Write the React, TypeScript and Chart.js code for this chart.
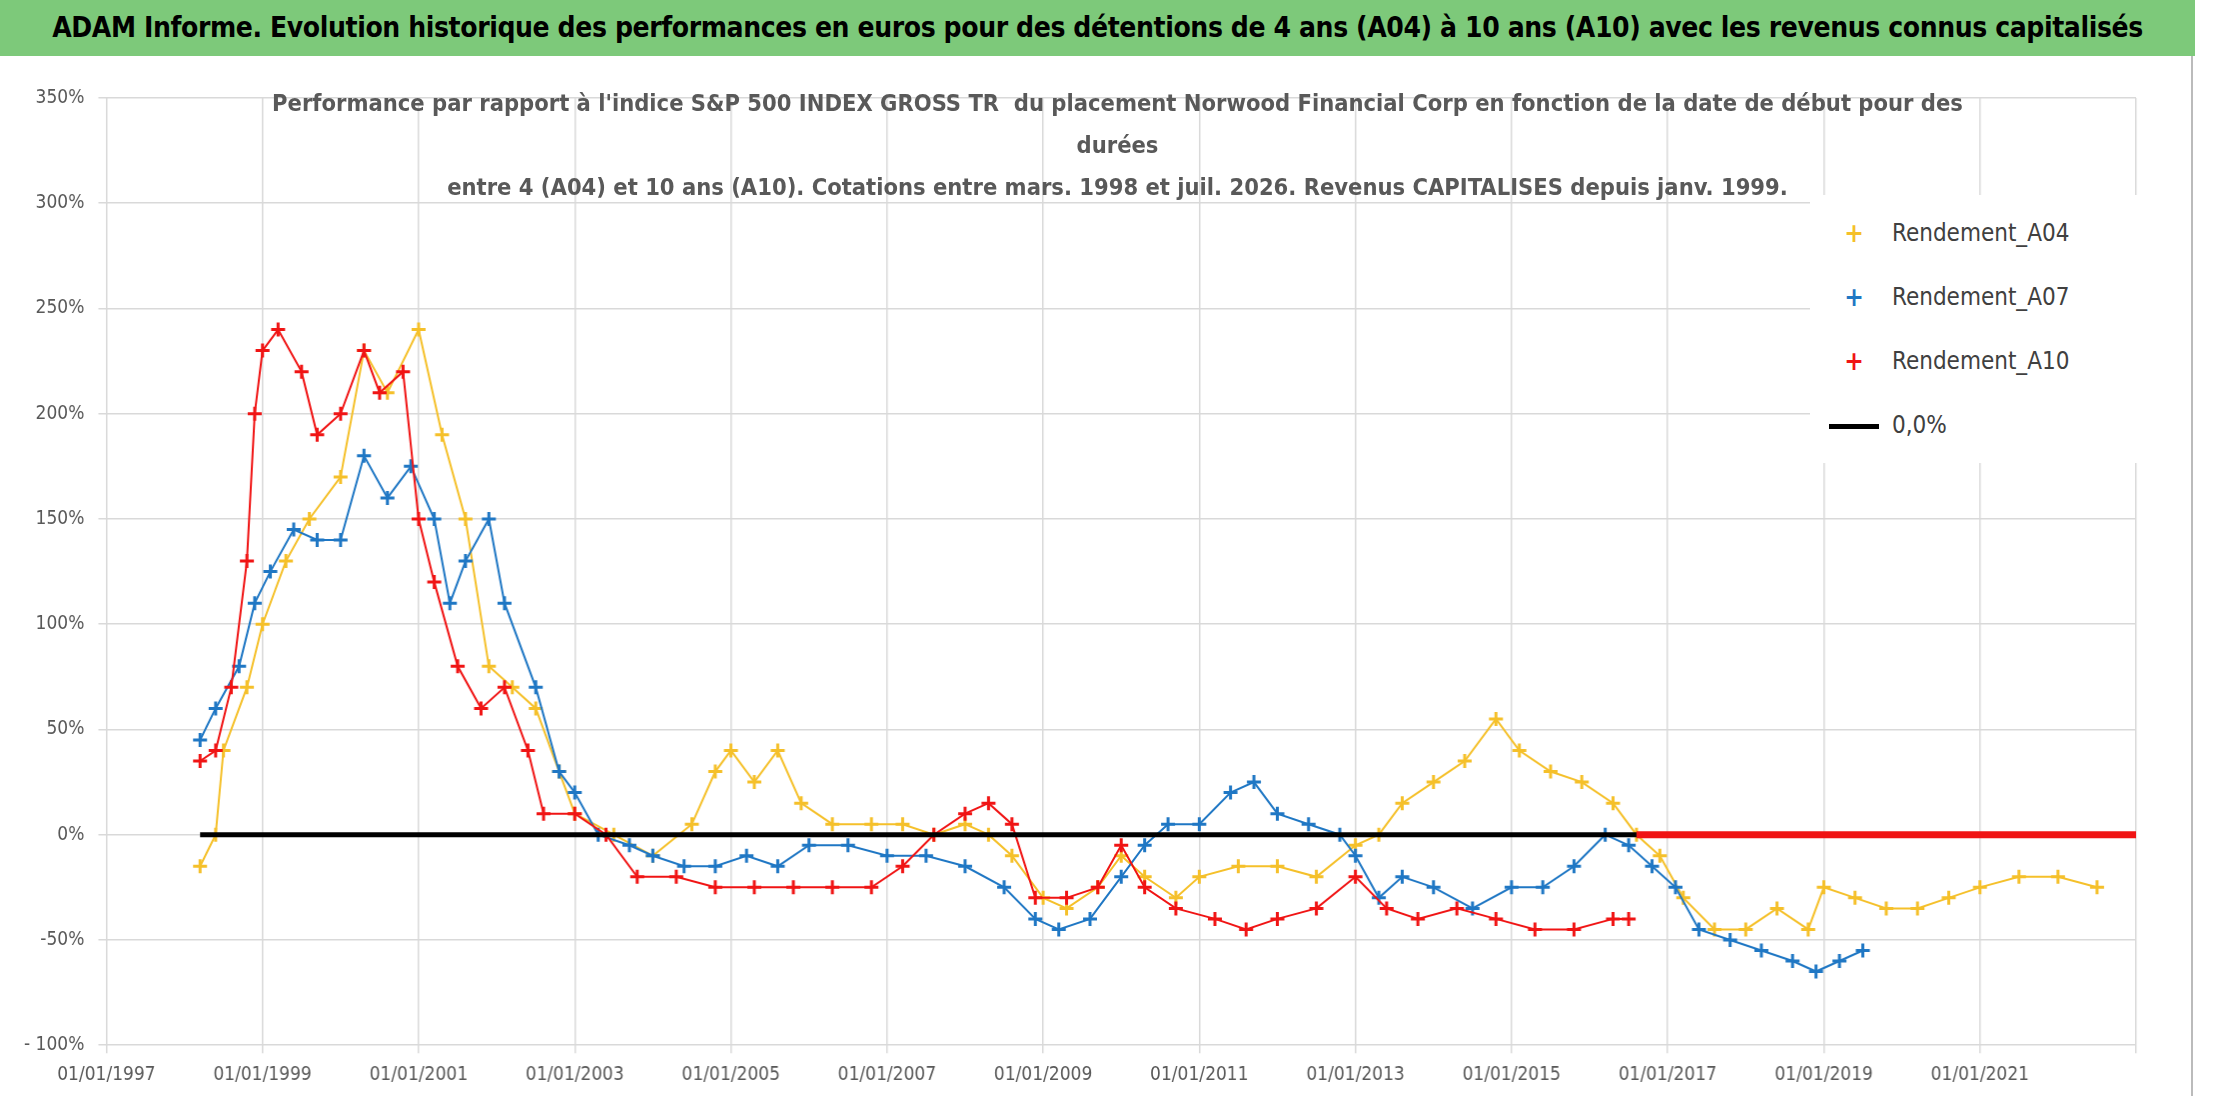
import { useEffect, useRef } from 'react';
import { Chart, registerables } from 'chart.js';

Chart.register(...registerables);

// start dates in decimal years, returns in %
const a04X = [1998.2, 1998.4, 1998.5, 1998.8, 1999.0, 1999.3, 1999.6, 2000.0, 2000.3, 2000.6, 2001.0, 2001.3, 2001.6, 2001.9, 2002.2, 2002.5, 2002.8, 2003.0, 2003.5, 2004.0, 2004.5, 2004.8, 2005.0, 2005.3, 2005.6, 2005.9, 2006.3, 2006.8, 2007.2, 2007.6, 2008.0, 2008.3, 2008.6, 2009.0, 2009.3, 2009.7, 2010.0, 2010.3, 2010.7, 2011.0, 2011.5, 2012.0, 2012.5, 2013.0, 2013.3, 2013.6, 2014.0, 2014.4, 2014.8, 2015.1, 2015.5, 2015.9, 2016.3, 2016.6, 2016.9, 2017.2, 2017.6, 2018.0, 2018.4, 2018.8, 2019.0, 2019.4, 2019.8, 2020.2, 2020.6, 2021.0, 2021.5, 2022.0, 2022.5];
const a04Y = [-15, 0, 40, 70, 100, 130, 150, 170, 230, 210, 240, 190, 150, 80, 70, 60, 30, 10, 0, -10, 5, 30, 40, 25, 40, 15, 5, 5, 5, 0, 5, 0, -10, -30, -35, -25, -10, -20, -30, -20, -15, -15, -20, -5, 0, 15, 25, 35, 55, 40, 30, 25, 15, 0, -10, -30, -45, -45, -35, -45, -25, -30, -35, -35, -30, -25, -20, -20, -25];
const a07X = [1998.2, 1998.4, 1998.7, 1998.9, 1999.1, 1999.4, 1999.7, 2000.0, 2000.3, 2000.6, 2000.9, 2001.2, 2001.4, 2001.6, 2001.9, 2002.1, 2002.5, 2002.8, 2003.0, 2003.3, 2003.7, 2004.0, 2004.4, 2004.8, 2005.2, 2005.6, 2006.0, 2006.5, 2007.0, 2007.5, 2008.0, 2008.5, 2008.9, 2009.2, 2009.6, 2010.0, 2010.3, 2010.6, 2011.0, 2011.4, 2011.7, 2012.0, 2012.4, 2012.8, 2013.0, 2013.3, 2013.6, 2014.0, 2014.5, 2015.0, 2015.4, 2015.8, 2016.2, 2016.5, 2016.8, 2017.1, 2017.4, 2017.8, 2018.2, 2018.6, 2018.9, 2019.2, 2019.5];
const a07Y = [45, 60, 80, 110, 125, 145, 140, 140, 180, 160, 175, 150, 110, 130, 150, 110, 70, 30, 20, 0, -5, -10, -15, -15, -10, -15, -5, -5, -10, -10, -15, -25, -40, -45, -40, -20, -5, 5, 5, 20, 25, 10, 5, 0, -10, -30, -20, -25, -35, -25, -25, -15, 0, -5, -15, -25, -45, -50, -55, -60, -65, -60, -55];
const a10X = [1998.2, 1998.4, 1998.6, 1998.8, 1998.9, 1999.0, 1999.2, 1999.5, 1999.7, 2000.0, 2000.3, 2000.5, 2000.8, 2001.0, 2001.2, 2001.5, 2001.8, 2002.1, 2002.4, 2002.6, 2003.0, 2003.4, 2003.8, 2004.3, 2004.8, 2005.3, 2005.8, 2006.3, 2006.8, 2007.2, 2007.6, 2008.0, 2008.3, 2008.6, 2008.9, 2009.3, 2009.7, 2010.0, 2010.3, 2010.7, 2011.2, 2011.6, 2012.0, 2012.5, 2013.0, 2013.4, 2013.8, 2014.3, 2014.8, 2015.3, 2015.8, 2016.3, 2016.5];
const a10Y = [35, 40, 70, 130, 200, 230, 240, 220, 190, 200, 230, 210, 220, 150, 120, 80, 60, 70, 40, 10, 10, 0, -20, -20, -25, -25, -25, -25, -25, -15, 0, 10, 15, 5, -30, -30, -25, -5, -25, -35, -40, -45, -40, -35, -20, -35, -40, -35, -40, -45, -45, -40, -40];
const a10ZeroRange = [2016.6, 2023.0];
const zeroRange = [1998.2, 2016.6];

const pts = (xs: number[], ys: number[]) => xs.map((x, i) => ({ x, y: ys[i] }));

const legendItems = [
  { label: 'Rendement_A04', color: '#f5c02a', line: false },
  { label: 'Rendement_A07', color: '#1f77c4', line: false },
  { label: 'Rendement_A10', color: '#f01414', line: false },
  { label: '0,0%', color: '#000000', line: true },
];

const FONT = "'DejaVu Sans Condensed', 'Liberation Sans', sans-serif";

export default function App() {
  const canvasRef = useRef<HTMLCanvasElement>(null);

  useEffect(() => {
    document.body.style.margin = '0';
    if (!canvasRef.current) return;
    const series = (data: { x: number; y: number }[], color: string) => ({
      data,
      showLine: true,
      borderColor: color,
      borderWidth: 2,
      backgroundColor: color,
      pointStyle: 'cross' as const,
      pointRadius: 7,
      pointBorderWidth: 3,
      pointBorderColor: color,
    });
    const tickFont = { size: 19, family: FONT };
    const chart = new Chart(canvasRef.current, {
      type: 'scatter',
      data: {
        datasets: [
          { data: zeroRange.map((x) => ({ x, y: 0 })), showLine: true, borderColor: '#000', borderWidth: 5, pointRadius: 0 },
          { data: a10ZeroRange.map((x) => ({ x, y: 0 })), showLine: true, borderColor: '#f01414', borderWidth: 7, pointRadius: 0 },
          series(pts(a10X, a10Y), '#f01414'),
          series(pts(a07X, a07Y), '#1f77c4'),
          series(pts(a04X, a04Y), '#f5c02a'),
        ],
      },
      options: {
        animation: false,
        responsive: false,
        layout: { padding: { top: 42, right: 55, left: 10 } },
        plugins: { legend: { display: false }, tooltip: { enabled: false } },
        scales: {
          x: {
            type: 'linear', min: 1997, max: 2023,
            ticks: { stepSize: 2, callback: (v) => (Number(v) % 2 === 1 && Number(v) < 2023 ? '01/01/' + v : ''), color: '#595959', font: tickFont, padding: 10 },
            grid: { color: '#d9d9d9', lineWidth: 1.5 },
            border: { display: false },
          },
          y: {
            min: -100, max: 350,
            ticks: { stepSize: 50, callback: (v) => (Number(v) <= -100 ? '- 100%' : v + '%'), color: '#595959', font: tickFont, padding: 14 },
            grid: { color: '#d9d9d9', lineWidth: 1.5 },
            border: { display: false },
          },
        },
      },
    });
    return () => chart.destroy();
  }, []);

  return (
    <div style={{ position: 'relative', width: 2195, fontFamily: FONT }}>
      <div style={{ background: '#7dc97a', height: 56, lineHeight: '56px', textAlign: 'center', fontWeight: 'bold', fontSize: 28, letterSpacing: -0.4, color: '#000', whiteSpace: 'nowrap', overflow: 'hidden' }}>
        ADAM Informe. Evolution historique des performances en euros pour des détentions de 4 ans (A04) à 10 ans (A10) avec les revenus connus capitalisés
      </div>
      <canvas ref={canvasRef} width={2193} height={1040} style={{ display: 'block', borderRight: '2px solid #bbb' }} />
      <div style={{ position: 'absolute', top: 82, left: 100, width: 2035, textAlign: 'center', color: '#595959', fontSize: 23.5, fontWeight: 'bold', lineHeight: '42px' }}>
        Performance par rapport à l'indice S&amp;P 500 INDEX GROSS TR&nbsp; du placement Norwood Financial Corp en fonction de la date de début pour des<br />durées<br />entre 4 (A04) et 10 ans (A10). Cotations entre mars. 1998 et juil. 2026. Revenus CAPITALISES depuis janv. 1999.
      </div>
      <div style={{ position: 'absolute', top: 195, left: 1810, width: 350, background: '#fff', padding: '6px 0' }}>
        {legendItems.map((it) => (
          <div key={it.label} style={{ display: 'flex', alignItems: 'center', height: 64, fontSize: 24, color: '#404040' }}>
            <span style={{ width: 56, marginLeft: 16, textAlign: 'center', color: it.color, fontWeight: 'bold', fontSize: 26 }}>
              {it.line ? <span style={{ display: 'inline-block', width: 50, height: 5, background: '#000', verticalAlign: 'middle' }} /> : '+'}
            </span>
            <span style={{ marginLeft: 10 }}>{it.label}</span>
          </div>
        ))}
      </div>
    </div>
  );
}
